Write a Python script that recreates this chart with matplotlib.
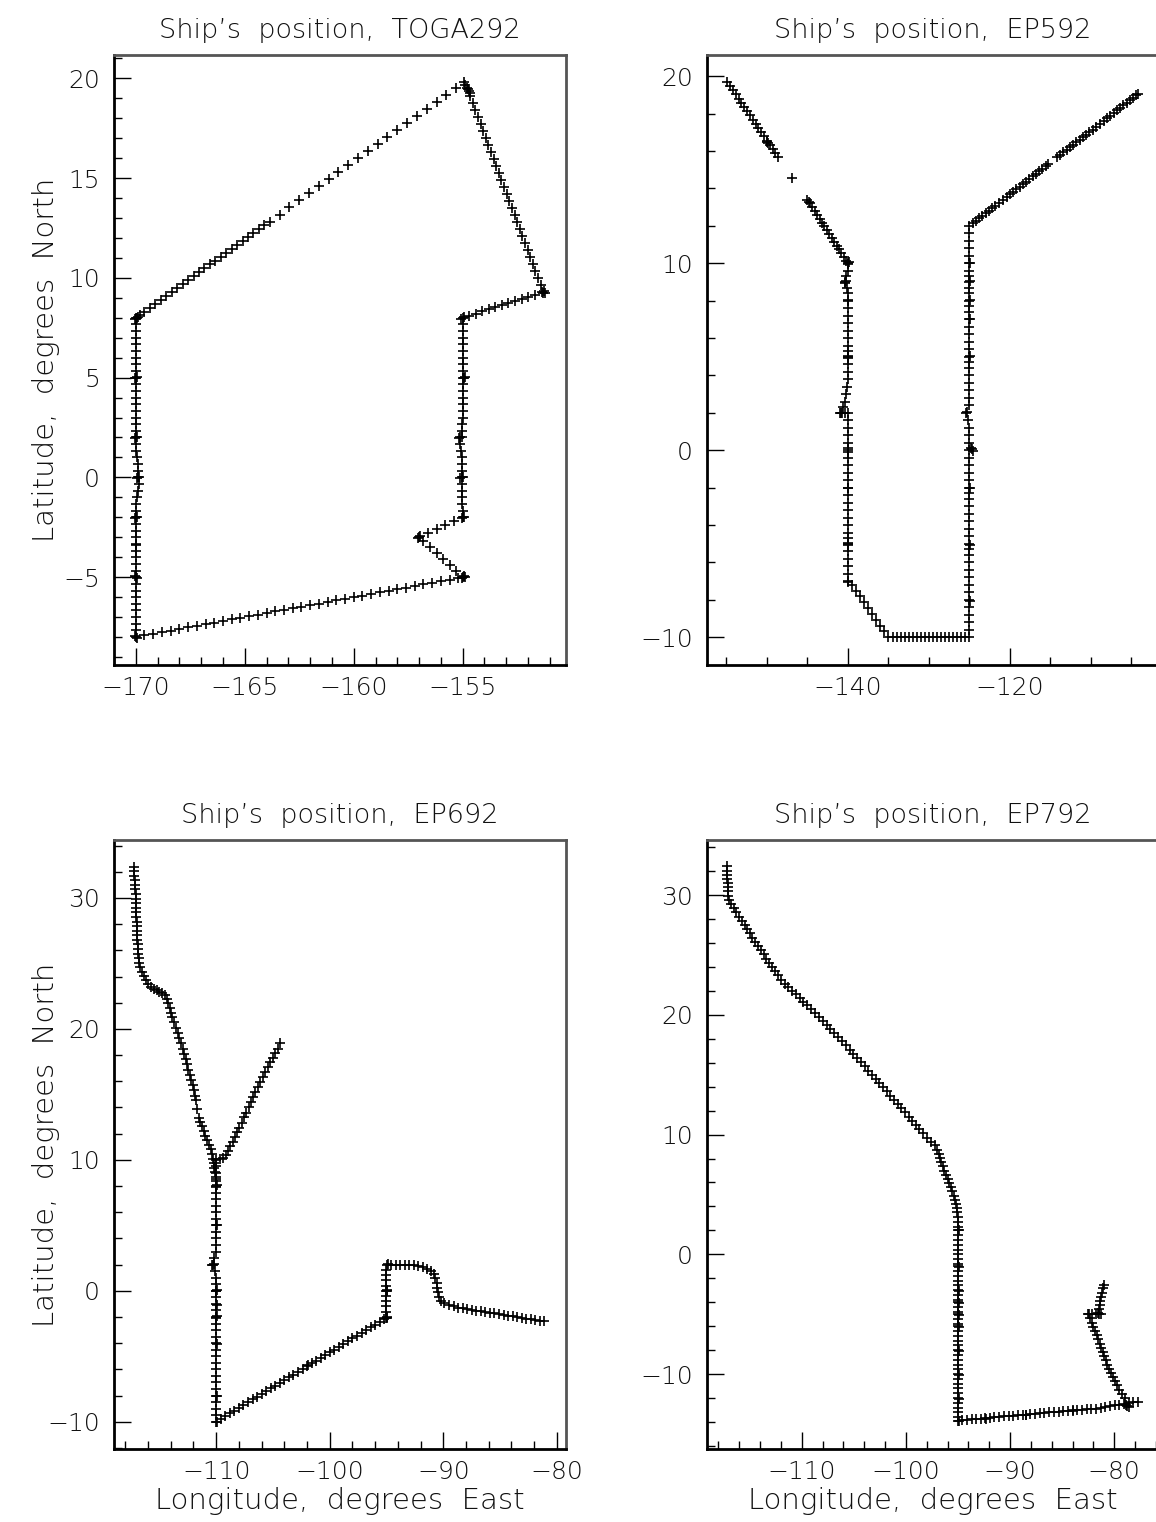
import matplotlib
matplotlib.use('Agg')
import matplotlib.pyplot as plt
from matplotlib.ticker import MultipleLocator
import numpy as np

plt.rcParams['font.family'] = ['DejaVu Sans']
plt.rcParams['font.weight'] = 'light'
plt.rcParams['axes.titleweight'] = 'light'
plt.rcParams['axes.labelweight'] = 'light'
plt.rcParams['axes.unicode_minus'] = True

# ship fixes (lon, lat)
toga292_track = [
    # down the 170W line
    (-170.0, 8.0), (-169.92, 8.05), (-170.05, 7.92), (-169.96, 7.98),
    (-170.0, 7.67), (-170.0, 7.33), (-170.0, 7.0), (-170.0, 6.67), (-170.0, 6.33), (-170.0, 6.0),
    (-170.0, 5.67), (-170.0, 5.33), (-170.0, 5.0), (-169.94, 5.04), (-170.04, 4.96),
    (-170.0, 4.67), (-170.0, 4.33), (-170.0, 4.0), (-170.0, 3.67), (-170.0, 3.33), (-170.0, 3.0),
    (-170.0, 2.67), (-170.0, 2.33), (-170.0, 2.0), (-169.95, 2.04), (-170.03, 1.97),
    (-170.0, 1.67), (-169.97, 1.33), (-169.95, 1.0), (-169.92, 0.67), (-169.9, 0.33),
    (-169.9, 0.0), (-169.85, 0.04), (-169.93, -0.03),
    (-169.85, -0.33), (-169.88, -0.67), (-169.93, -1.0), (-169.97, -1.33), (-170.0, -1.67),
    (-170.0, -2.0), (-170.05, -2.04), (-169.96, -1.97),
    (-170.0, -2.33), (-170.0, -2.67), (-170.0, -3.0), (-170.0, -3.33), (-169.97, -3.4),
    (-170.0, -3.67), (-170.0, -4.0), (-170.0, -4.33), (-170.0, -4.67),
    (-170.0, -5.0), (-169.95, -5.04), (-170.04, -4.96),
    (-170.0, -5.33), (-170.0, -5.67), (-170.0, -6.0), (-170.0, -6.33), (-170.0, -6.67),
    (-170.0, -7.0), (-170.0, -7.33), (-170.0, -7.67),
    (-170.0, -8.0), (-169.95, -8.05), (-170.03, -7.96),
    # across to 155W
    (-169.6, -7.92), (-169.2, -7.84), (-168.8, -7.76), (-168.4, -7.68), (-168.0, -7.6),
    (-167.6, -7.52), (-167.2, -7.44), (-166.8, -7.36), (-166.4, -7.28), (-166.0, -7.2),
    (-165.6, -7.12), (-165.2, -7.04), (-164.8, -6.96), (-164.4, -6.88), (-164.0, -6.8),
    (-163.6, -6.72), (-163.2, -6.64), (-162.8, -6.56), (-162.4, -6.48), (-162.0, -6.4),
    (-161.6, -6.32), (-161.2, -6.24), (-160.8, -6.16), (-160.4, -6.08), (-160.0, -6.0),
    (-159.6, -5.92), (-159.2, -5.84), (-158.8, -5.76), (-158.4, -5.68), (-158.0, -5.6),
    (-157.6, -5.52), (-157.2, -5.44), (-156.8, -5.36), (-156.4, -5.28), (-156.0, -5.2),
    (-155.6, -5.12), (-155.2, -5.04),
    (-155.0, -5.0), (-154.95, -4.95), (-155.05, -5.05), (-154.9, -5.0),
    # dog-leg to 157W
    (-155.3, -4.7), (-155.6, -4.4), (-155.9, -4.1), (-156.2, -3.8), (-156.5, -3.5), (-156.8, -3.2),
    (-157.0, -3.0), (-156.95, -2.95), (-157.05, -3.02),
    (-156.6, -2.8), (-156.2, -2.6), (-155.8, -2.4), (-155.4, -2.2),
    (-155.0, -2.0), (-154.95, -1.97), (-155.05, -2.03),
    # up the 155W line
    (-155.0, -1.67), (-155.02, -1.33), (-155.05, -1.0), (-155.05, -0.67), (-155.05, -0.33),
    (-155.05, 0.0), (-155.0, 0.04), (-155.1, -0.03),
    (-155.05, 0.33), (-155.05, 0.67), (-155.05, 1.0), (-155.08, 1.33), (-155.1, 1.67),
    (-155.12, 2.0), (-155.05, 2.03), (-155.15, 1.97),
    (-155.05, 2.33), (-155.03, 2.67), (-155.0, 3.0), (-155.0, 3.33), (-155.0, 3.67), (-155.0, 4.0),
    (-154.98, 4.33), (-154.97, 4.67), (-154.95, 5.0), (-154.9, 5.04), (-155.0, 4.96),
    (-154.97, 5.33), (-155.0, 5.67), (-155.0, 6.0), (-155.0, 6.33), (-155.0, 6.67), (-155.0, 7.0),
    (-155.0, 7.33), (-155.0, 7.67), (-155.0, 8.0), (-154.92, 8.04), (-155.06, 7.95),
    # east to the turn near 151W
    (-154.7, 8.1), (-154.4, 8.21), (-154.1, 8.32), (-153.8, 8.42), (-153.5, 8.53), (-153.2, 8.63),
    (-152.9, 8.74), (-152.6, 8.84), (-152.3, 8.95), (-152.0, 9.05), (-151.7, 9.16),
    (-151.35, 9.28), (-151.25, 9.32), (-151.3, 9.22), (-151.2, 9.25),
    # north to 20N
    (-151.42, 9.65), (-151.54, 10.0), (-151.66, 10.35), (-151.78, 10.7), (-151.9, 11.05),
    (-152.02, 11.4), (-152.14, 11.75), (-152.26, 12.1), (-152.38, 12.45), (-152.5, 12.8),
    (-152.62, 13.15), (-152.74, 13.5), (-152.86, 13.85), (-152.98, 14.2), (-153.1, 14.55),
    (-153.22, 14.9), (-153.34, 15.25), (-153.46, 15.6), (-153.58, 15.95), (-153.7, 16.3),
    (-153.82, 16.65), (-153.94, 17.0), (-154.06, 17.35), (-154.18, 17.7), (-154.3, 18.05),
    (-154.42, 18.4), (-154.54, 18.75), (-154.66, 19.1), (-154.65, 19.25), (-154.7, 19.35),
    (-154.75, 19.45), (-154.8, 19.5), (-154.88, 19.65), (-154.95, 19.8),
    # long run back to 170W, 8N
    (-155.3, 19.52), (-155.75, 19.17), (-156.2, 18.82), (-156.65, 18.47), (-157.1, 18.11),
    (-157.55, 17.76), (-158.0, 17.41), (-158.45, 17.06), (-158.9, 16.7), (-159.35, 16.35),
    (-159.8, 16.0), (-160.25, 15.64), (-160.7, 15.29), (-161.15, 14.94), (-161.6, 14.59),
    (-162.05, 14.23), (-162.5, 13.88), (-162.95, 13.53), (-163.4, 13.17), (-163.85, 12.82),
    (-164.1, 12.63), (-164.35, 12.43), (-164.6, 12.23), (-164.85, 12.04), (-165.1, 11.84),
    (-165.35, 11.65), (-165.6, 11.45), (-165.85, 11.25), (-166.1, 11.06), (-166.35, 10.86),
    (-166.6, 10.67), (-166.85, 10.47), (-167.1, 10.27), (-167.35, 10.08), (-167.6, 9.88),
    (-167.85, 9.69), (-168.1, 9.49), (-168.35, 9.29), (-168.6, 9.1), (-168.85, 8.9),
    (-169.1, 8.71), (-169.35, 8.51), (-169.6, 8.31), (-169.8, 8.16),
]

ep592_track = [
    # down from 20N
    (-154.9, 19.7), (-154.55, 19.48), (-154.2, 19.25), (-153.85, 19.03), (-153.5, 18.8),
    (-153.15, 18.58), (-152.8, 18.35), (-152.45, 18.13), (-152.1, 17.91), (-151.75, 17.68),
    (-151.4, 17.46), (-151.05, 17.23), (-150.7, 17.01), (-150.35, 16.78), (-150.0, 16.56),
    (-150.0, 16.5), (-149.9, 16.45), (-149.65, 16.33), (-149.3, 16.11), (-148.95, 15.88),
    (-148.6, 15.66),
    (-146.9, 14.55),
    (-145.0, 13.4), (-144.8, 13.25), (-144.7, 13.2), (-144.4, 12.99), (-144.1, 12.8),
    (-143.8, 12.59), (-143.5, 12.38), (-143.2, 12.18), (-142.9, 11.98), (-142.6, 11.77),
    (-142.3, 11.57), (-142.0, 11.36), (-141.7, 11.16), (-141.4, 10.95), (-141.1, 10.75),
    (-140.8, 10.54), (-140.5, 10.34), (-140.2, 10.14), (-140.0, 10.0), (-139.9, 10.05),
    (-140.05, 9.95),
    # down the 140W line
    (-140.0, 9.6), (-140.2, 9.3), (-140.35, 9.0), (-140.3, 9.03), (-140.4, 8.97), (-140.1, 8.7),
    (-140.0, 8.4), (-140.0, 8.0), (-140.05, 8.03), (-140.0, 7.6), (-140.0, 7.2), (-140.0, 6.8),
    (-140.0, 6.4), (-140.0, 6.0), (-140.0, 5.6), (-140.0, 5.3), (-140.0, 5.0), (-139.95, 5.04),
    (-140.05, 4.96), (-140.0, 4.6), (-140.0, 4.2), (-140.0, 3.8), (-140.1, 3.4), (-140.25, 3.0),
    (-140.4, 2.6), (-140.6, 2.3), (-140.85, 2.0), (-140.7, 2.02), (-141.0, 1.98), (-140.4, 2.0),
    (-140.0, 2.0), (-140.0, 1.6), (-140.0, 1.2), (-140.0, 0.8), (-140.0, 0.4), (-140.0, 0.0),
    (-139.95, 0.1), (-140.05, -0.1), (-140.0, -0.4), (-140.0, -0.8), (-140.0, -1.2),
    (-140.0, -1.6), (-140.0, -2.0), (-140.05, -2.04), (-140.0, -2.4), (-140.0, -2.8),
    (-140.0, -3.2), (-140.0, -3.6), (-140.0, -4.0), (-140.0, -4.4), (-140.0, -4.7),
    (-140.0, -5.0), (-139.95, -5.05), (-140.05, -4.95), (-140.0, -5.4), (-140.0, -5.8),
    (-140.0, -6.2), (-140.0, -6.6), (-140.0, -7.0), (-139.95, -7.04),
    # south-east to 10S
    (-139.5, -7.19), (-139.0, -7.5), (-138.5, -7.81), (-138.0, -8.13), (-137.5, -8.44),
    (-137.0, -8.75), (-136.5, -9.06), (-136.0, -9.38), (-135.5, -9.69), (-135.0, -10.0),
    # along 10S
    (-134.5, -10.0), (-134.0, -10.0), (-133.5, -10.0), (-133.0, -10.0), (-132.5, -10.0),
    (-132.0, -10.0), (-131.5, -10.0), (-131.0, -10.0), (-130.5, -10.0), (-130.0, -10.0),
    (-129.5, -10.0), (-129.0, -10.0), (-128.5, -10.0), (-128.0, -10.0), (-127.5, -10.0),
    (-127.0, -10.0), (-126.5, -10.0), (-126.0, -10.0), (-125.5, -10.0), (-125.0, -10.0),
    # up the 125W line
    (-125.0, -9.6), (-125.0, -9.2), (-125.0, -8.8), (-125.0, -8.4), (-125.0, -8.0),
    (-124.95, -8.04), (-125.0, -7.6), (-125.0, -7.2), (-125.0, -6.8), (-125.0, -6.4),
    (-125.0, -6.0), (-125.0, -5.6), (-125.0, -5.3), (-125.0, -5.0), (-124.95, -5.04),
    (-125.0, -4.6), (-125.0, -4.2), (-125.0, -3.8), (-125.0, -3.4), (-125.0, -3.0),
    (-125.0, -2.6), (-125.0, -2.3), (-125.0, -2.0), (-124.95, -2.04), (-125.0, -1.6),
    (-125.0, -1.2), (-125.0, -0.8), (-125.0, -0.4), (-125.0, 0.0), (-124.7, 0.05),
    (-124.55, -0.05), (-124.8, 0.1), (-125.0, 0.4), (-125.0, 0.8), (-125.1, 1.2),
    (-125.2, 1.6), (-125.4, 2.0), (-125.3, 2.05), (-125.1, 2.4), (-125.0, 2.8), (-125.0, 3.2),
    (-125.0, 3.6), (-125.0, 4.0), (-125.0, 4.4), (-125.0, 4.7), (-125.0, 5.0), (-124.95, 5.04),
    (-125.0, 5.4), (-125.0, 5.8), (-125.0, 6.2), (-125.0, 6.6), (-125.0, 7.0), (-124.95, 7.04),
    (-125.0, 7.4), (-125.0, 7.7), (-125.0, 8.0), (-124.95, 8.04), (-125.0, 8.4), (-125.0, 8.7),
    (-125.0, 9.0), (-124.95, 9.04), (-125.0, 9.3), (-125.0, 9.6), (-125.0, 10.0),
    (-124.95, 10.04), (-125.0, 10.4), (-125.0, 10.8), (-125.0, 11.2), (-125.0, 11.6),
    (-125.0, 12.0),
    # north-east to 104W
    (-124.6, 12.14), (-124.2, 12.27), (-123.8, 12.41), (-123.4, 12.54), (-123.0, 12.68),
    (-122.6, 12.81), (-122.2, 12.95), (-121.8, 13.08), (-121.4, 13.22), (-120.9, 13.39),
    (-120.4, 13.56), (-120.0, 13.7), (-119.6, 13.83), (-119.2, 13.97), (-118.8, 14.1),
    (-118.4, 14.24), (-118.0, 14.37), (-117.6, 14.51), (-117.2, 14.64), (-116.8, 14.78),
    (-116.4, 14.92), (-116.0, 15.05), (-115.6, 15.19), (-115.3, 15.29),
    (-114.2, 15.66), (-113.8, 15.8), (-113.4, 15.93), (-113.0, 16.07), (-112.6, 16.2),
    (-112.2, 16.34), (-111.8, 16.47), (-111.4, 16.61), (-111.0, 16.75), (-110.6, 16.88),
    (-110.2, 17.02), (-109.8, 17.15), (-109.4, 17.29), (-108.9, 17.46),
    (-108.4, 17.63), (-108.0, 17.76), (-107.6, 17.9), (-107.2, 18.03), (-106.8, 18.17),
    (-106.4, 18.31), (-106.0, 18.44), (-105.6, 18.58), (-105.2, 18.71), (-104.8, 18.85),
    (-104.4, 18.98), (-104.2, 19.05),
]

ep692_track = [
    # down from 32N
    (-117.25, 32.4), (-117.23, 32.05), (-117.2, 31.7), (-117.18, 31.35), (-117.15, 31.0),
    (-117.13, 30.65), (-117.1, 30.3), (-117.08, 29.95), (-117.06, 29.6), (-117.05, 29.25),
    (-117.03, 28.9), (-117.02, 28.55), (-117.0, 28.2), (-117.0, 27.85), (-116.98, 27.5),
    (-116.97, 27.15), (-116.95, 26.8), (-116.92, 26.45), (-116.9, 26.1), (-116.87, 25.75),
    (-116.84, 25.4), (-116.8, 25.05), (-116.7, 24.7), (-116.55, 24.35), (-116.4, 24.05),
    (-116.2, 23.75), (-116.0, 23.45), (-115.75, 23.2), (-115.5, 23.05), (-115.25, 22.95),
    (-115.0, 22.85), (-114.75, 22.75), (-114.5, 22.6), (-114.35, 22.3), (-114.2, 21.95),
    (-114.1, 21.6), (-114.0, 21.25), (-113.85, 20.9), (-113.7, 20.5), (-113.55, 20.1),
    (-113.4, 19.7), (-113.25, 19.3), (-113.1, 18.9), (-112.95, 18.5), (-112.85, 18.1),
    (-112.7, 17.7), (-112.6, 17.3), (-112.45, 16.9), (-112.3, 16.5), (-112.2, 16.1),
    (-112.05, 15.7), (-111.95, 15.3), (-111.85, 14.9), (-111.8, 14.6),
    (-111.65, 13.9),
    (-111.5, 13.2), (-111.4, 12.9), (-111.25, 12.55), (-111.1, 12.2), (-110.95, 11.85),
    (-110.8, 11.5), (-110.65, 11.15), (-110.5, 10.8), (-110.4, 10.45), (-110.3, 10.1),
    (-110.2, 9.75), (-110.15, 9.4), (-110.1, 9.05), (-110.05, 8.7), (-110.0, 8.35),
    # branch up to 19N
    (-110.0, 10.0), (-109.7, 10.05), (-109.4, 10.15), (-109.15, 10.35), (-108.95, 10.7),
    (-108.75, 11.05), (-108.55, 11.4), (-108.35, 11.75), (-108.15, 12.1), (-107.95, 12.45),
    (-107.75, 12.85), (-107.55, 13.25), (-107.35, 13.6), (-107.15, 14.0), (-106.95, 14.4),
    (-106.75, 14.8), (-106.55, 15.2), (-106.35, 15.55), (-106.1, 15.95), (-105.9, 16.35),
    (-105.7, 16.7), (-105.45, 17.1), (-105.25, 17.45), (-105.0, 17.8), (-104.8, 18.15),
    (-104.55, 18.5), (-104.35, 18.9),
    # down the 110W line
    (-110.0, 9.5), (-110.0, 9.0), (-110.0, 8.5), (-110.0, 8.0), (-109.95, 8.05),
    (-110.05, 7.95), (-110.0, 7.5), (-110.0, 7.0), (-110.0, 6.5), (-110.0, 6.0), (-110.0, 5.5),
    (-110.0, 5.0), (-109.95, 5.05), (-110.0, 4.5), (-110.0, 4.0), (-110.0, 3.5), (-110.0, 3.0),
    (-110.15, 2.5), (-110.3, 2.0), (-110.2, 2.05), (-110.35, 1.95), (-110.1, 1.5),
    (-110.0, 1.0), (-110.0, 0.5), (-110.0, 0.0), (-109.95, 0.05), (-110.05, -0.05),
    (-110.0, -0.5), (-110.0, -1.0), (-109.95, -1.05), (-110.0, -1.5), (-110.0, -2.0),
    (-110.05, -2.05), (-109.95, -1.95), (-110.0, -2.5), (-110.0, -3.0), (-110.0, -3.5),
    (-110.0, -4.0), (-109.95, -4.05), (-110.0, -4.5), (-110.0, -5.0), (-110.0, -5.5),
    (-110.0, -6.0), (-110.0, -6.5), (-110.0, -7.0), (-110.0, -7.5), (-110.0, -8.0),
    (-109.95, -8.05), (-110.0, -8.5), (-110.0, -9.0), (-110.0, -9.5), (-110.0, -10.0),
    (-109.95, -10.05),
    # north-east to 95W
    (-109.6, -9.79), (-109.2, -9.58), (-108.8, -9.36), (-108.4, -9.15), (-108.0, -8.94),
    (-107.6, -8.73), (-107.2, -8.52), (-106.8, -8.3), (-106.4, -8.09), (-106.0, -7.88),
    (-105.6, -7.67), (-105.2, -7.46), (-104.8, -7.24), (-104.4, -7.03), (-104.0, -6.82),
    (-103.6, -6.61), (-103.2, -6.4), (-102.8, -6.18), (-102.4, -5.97), (-102.0, -5.76),
    (-101.9, -5.7), (-101.6, -5.55), (-101.2, -5.34), (-100.8, -5.12), (-100.4, -4.91),
    (-100.0, -4.7), (-99.6, -4.49), (-99.2, -4.28), (-98.8, -4.06), (-98.4, -3.85),
    (-98.0, -3.64), (-97.6, -3.43), (-97.2, -3.22), (-96.8, -3.0), (-96.4, -2.79),
    (-96.0, -2.58), (-95.6, -2.37), (-95.2, -2.16), (-95.0, -2.05), (-94.95, -2.0),
    (-95.05, -2.1),
    # up 95W
    (-95.05, -1.6), (-95.05, -1.2), (-95.05, -0.8), (-95.05, -0.4), (-95.0, 0.0),
    (-94.95, 0.05), (-95.05, -0.05), (-95.05, 0.4), (-95.05, 0.8), (-95.05, 1.2),
    (-95.05, 1.6), (-95.0, 2.0), (-94.9, 2.03),
    # east along 2N and on to the coast
    (-94.6, 2.0), (-94.2, 2.0), (-93.8, 2.0), (-93.4, 2.0), (-93.0, 2.0), (-92.6, 1.98),
    (-92.2, 1.92), (-91.8, 1.85), (-91.4, 1.7), (-91.1, 1.5), (-90.85, 1.25), (-90.7, 0.95),
    (-90.6, 0.6), (-90.55, 0.25), (-90.5, -0.1), (-90.4, -0.45), (-90.2, -0.75),
    (-89.9, -0.95), (-89.5, -1.1), (-89.1, -1.2), (-88.7, -1.28), (-88.3, -1.35),
    (-87.9, -1.42), (-87.5, -1.48), (-87.1, -1.53), (-86.7, -1.58), (-86.3, -1.63),
    (-85.9, -1.68), (-85.5, -1.73), (-85.1, -1.78), (-84.7, -1.84), (-84.3, -1.9),
    (-83.9, -1.96), (-83.5, -2.02), (-83.1, -2.07), (-82.7, -2.12), (-82.3, -2.17),
    (-81.9, -2.22), (-81.5, -2.27), (-81.1, -2.32),
]

ep792_track = [
    # down from 32N
    (-117.2, 32.4), (-117.18, 32.05), (-117.16, 31.7), (-117.14, 31.35), (-117.12, 31.0),
    (-117.1, 30.65), (-117.08, 30.3), (-117.06, 29.95), (-117.0, 29.6), (-116.8, 29.25),
    (-116.55, 28.9), (-116.3, 28.55), (-116.0, 28.2), (-115.75, 27.85), (-115.5, 27.5),
    (-115.25, 27.15), (-115.0, 26.8), (-114.75, 26.45), (-114.5, 26.1), (-114.2, 25.75),
    (-113.95, 25.4), (-113.65, 25.05), (-113.4, 24.7), (-113.1, 24.35), (-112.85, 24.0),
    (-112.6, 23.65), (-112.3, 23.3), (-112.0, 22.95), (-111.65, 22.6), (-111.3, 22.3),
    (-110.95, 22.0), (-110.6, 21.7), (-110.2, 21.4), (-109.85, 21.1), (-109.5, 20.8),
    (-109.1, 20.45), (-108.75, 20.15), (-108.35, 19.8), (-108.0, 19.5), (-107.6, 19.15),
    (-107.25, 18.8), (-106.9, 18.5), (-106.5, 18.15), (-106.15, 17.8), (-105.8, 17.45),
    (-105.4, 17.1), (-105.05, 16.75), (-104.7, 16.4), (-104.3, 16.05), (-103.95, 15.7),
    (-103.6, 15.35), (-103.25, 15.0), (-102.9, 14.65), (-102.55, 14.3), (-102.2, 13.95),
    (-101.85, 13.6), (-101.5, 13.25), (-101.15, 12.9), (-100.8, 12.55), (-100.45, 12.2),
    (-100.1, 11.85), (-99.75, 11.5), (-99.4, 11.15), (-99.05, 10.8), (-98.7, 10.45),
    (-98.35, 10.1), (-98.0, 9.75), (-97.6, 9.4), (-97.2, 9.1), (-97.0, 8.75), (-96.85, 8.4),
    (-96.7, 8.05), (-96.6, 7.7), (-96.45, 7.35), (-96.3, 7.0), (-96.15, 6.65), (-96.0, 6.3),
    (-95.85, 5.95), (-95.7, 5.6), (-95.55, 5.25), (-95.4, 4.9), (-95.25, 4.55),
    (-95.15, 4.2), (-95.1, 3.85), (-95.05, 3.5),
    # down the 95W line
    (-95.0, 3.1), (-95.0, 2.7), (-95.0, 2.3), (-95.0, 2.0), (-94.95, 2.04), (-95.0, 1.6),
    (-95.0, 1.2), (-95.0, 0.8), (-95.0, 0.4), (-95.0, 0.0), (-95.0, -0.4), (-95.0, -0.8),
    (-95.0, -1.0), (-94.95, -1.04), (-95.0, -1.4), (-95.0, -1.8), (-95.0, -2.2),
    (-95.0, -2.6), (-95.0, -3.0), (-94.95, -3.04), (-95.0, -3.4), (-95.0, -3.8),
    (-95.0, -4.0), (-94.95, -4.04), (-95.0, -4.4), (-95.0, -4.8), (-95.0, -5.0),
    (-94.95, -5.04), (-95.0, -5.4), (-95.0, -5.8), (-95.0, -6.0), (-94.95, -6.04),
    (-95.0, -6.4), (-95.0, -6.8), (-95.0, -7.2), (-95.0, -7.6), (-95.0, -8.0),
    (-94.95, -8.04), (-95.0, -8.4), (-95.0, -8.8), (-95.0, -9.2), (-95.0, -9.6),
    (-95.0, -10.0), (-94.95, -10.04), (-95.0, -10.4), (-95.0, -10.8), (-95.0, -11.2),
    (-95.0, -11.6), (-95.0, -12.0), (-94.95, -12.04), (-95.0, -12.4), (-95.0, -12.8),
    (-95.0, -13.2), (-95.0, -13.6), (-95.0, -13.9), (-94.95, -13.95),
    # east toward the coast
    (-94.6, -13.86), (-94.15, -13.83), (-93.7, -13.79), (-93.25, -13.75), (-92.8, -13.71),
    (-92.4, -13.68), (-92.35, -13.72), (-91.95, -13.64), (-91.5, -13.61), (-91.05, -13.57),
    (-90.6, -13.53), (-90.15, -13.5), (-89.7, -13.46), (-89.25, -13.43), (-88.8, -13.4),
    (-88.5, -13.38), (-88.45, -13.42), (-88.05, -13.34), (-87.6, -13.3), (-87.15, -13.27),
    (-86.7, -13.23), (-86.25, -13.2), (-85.8, -13.17), (-85.35, -13.14), (-84.9, -13.1),
    (-84.45, -13.07), (-84.0, -13.03), (-83.95, -13.07), (-83.55, -13.0), (-83.1, -12.97),
    (-82.65, -12.94), (-82.2, -12.91), (-81.75, -12.88), (-81.3, -12.85), (-80.85, -12.78),
    (-80.4, -12.7), (-79.95, -12.62), (-79.5, -12.55), (-79.05, -12.48), (-78.6, -12.42),
    (-78.15, -12.35), (-77.7, -12.3),
    (-78.75, -12.7), (-78.6, -12.75), (-78.85, -12.6),
    # back north along the coast
    (-79.0, -12.0), (-79.3, -11.65), (-79.55, -11.3), (-79.75, -10.95), (-79.95, -10.6),
    (-80.15, -10.25), (-80.35, -9.9), (-80.5, -9.55), (-80.65, -9.2), (-80.8, -8.85),
    (-80.95, -8.5), (-81.1, -8.15), (-81.25, -7.8), (-81.4, -7.45), (-81.55, -7.1),
    (-81.7, -6.75), (-81.85, -6.4), (-82.0, -6.05), (-82.15, -5.7), (-82.3, -5.35),
    (-82.45, -5.0), (-82.5, -4.95), (-82.1, -4.95), (-81.75, -4.95), (-81.6, -4.9),
    (-81.5, -4.95), (-81.3, -4.95),
    (-81.45, -4.6), (-81.4, -4.25), (-81.35, -3.9), (-81.3, -3.55), (-81.2, -3.2),
    (-81.1, -2.85), (-81.0, -2.55),
]

cruise_names = ['TOGA292', 'EP592', 'EP692', 'EP792']
cruise_tracks = [toga292_track, ep592_track, ep692_track, ep792_track]
lon_limits = [(-171, -150.26), (-157.4, -101.6), (-119, -79.2), (-119.1, -75.7)]
lat_limits = [(-9.4, 21.17), (-11.48, 21.14), (-12.08, 34.43), (-16.25, 34.6)]
lon_steps = [(5, 1), (20, 5), (10, 2), (10, 2)]
lat_steps = [(5, 1), (10, 2), (10, 2), (10, 2)]

TEXT = '#111111'


def draw_track(ax, track, name, xlim, ylim, xstep, ystep):
    """one ship track panel"""
    lon, lat = np.array(track).T
    ax.plot(lon, lat, linestyle='none', marker='+', markersize=7,
            markeredgewidth=1.2, color='black')

    ax.set_xlim(*xlim)
    ax.set_ylim(*ylim)
    ax.xaxis.set_major_locator(MultipleLocator(xstep[0]))
    ax.xaxis.set_minor_locator(MultipleLocator(xstep[1]))
    ax.yaxis.set_major_locator(MultipleLocator(ystep[0]))
    ax.yaxis.set_minor_locator(MultipleLocator(ystep[1]))

    ax.tick_params(which='both', direction='in', top=False, right=False,
                   color='black', width=1.0, labelsize=18, labelcolor=TEXT)
    ax.tick_params(which='major', length=12)
    ax.tick_params(which='minor', length=6)
    ax.tick_params(axis='x', pad=8)
    ax.tick_params(axis='y', pad=10)

    for side in ['left', 'bottom']:
        ax.spines[side].set_color('black')
        ax.spines[side].set_linewidth(2.0)
    for side in ['top', 'right']:
        ax.spines[side].set_color('#555555')
        ax.spines[side].set_linewidth(2.0)

    ax.set_title(f'Ship’s  position,  {name}', fontsize=19.5, fontweight='light',
                 color=TEXT, pad=12)


fig = plt.figure(figsize=(11.56, 15.22), dpi=100)

# panel boxes in figure fractions (left, bottom, width, height)
boxes = [
    [0.0986, 0.5631, 0.391, 0.4008],
    [0.6116, 0.5631, 0.391, 0.4008],
    [0.0986, 0.0480, 0.391, 0.4001],
    [0.6116, 0.0480, 0.391, 0.4001],
]

axes = []
for i in range(4):
    ax = fig.add_axes(boxes[i])
    draw_track(ax, cruise_tracks[i], cruise_names[i], lon_limits[i], lat_limits[i],
               lon_steps[i], lat_steps[i])
    axes.append(ax)

for ax in [axes[0], axes[2]]:
    ax.set_ylabel('Latitude,  degrees  North', fontsize=21, fontweight='light', color=TEXT)
    ax.yaxis.set_label_coords(-0.12, 0.5)
for ax in [axes[2], axes[3]]:
    ax.set_xlabel('Longitude,  degrees  East', fontsize=21, fontweight='light',
                  color=TEXT, labelpad=2)

plt.savefig('out.png', dpi=100)
plt.close()
